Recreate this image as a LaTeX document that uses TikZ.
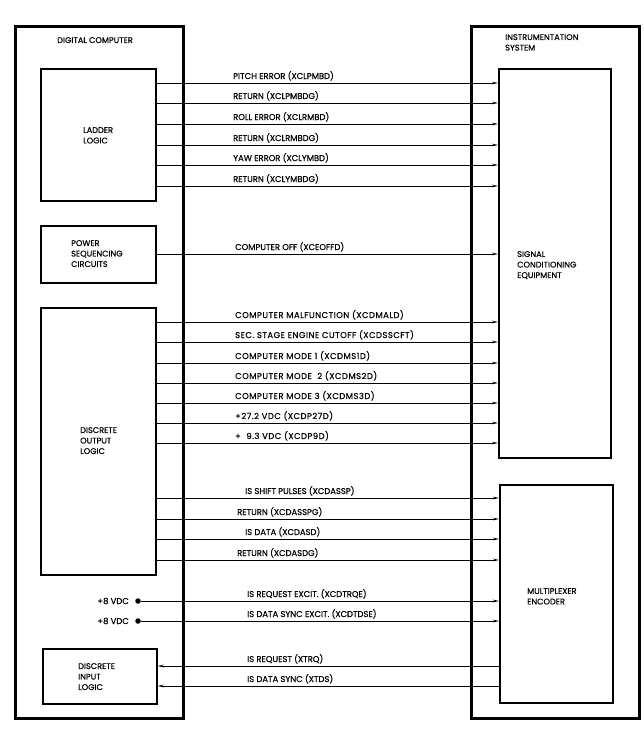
\documentclass[tikz,border=0pt]{standalone}
\usepackage{fontspec}
\setmainfont{Poppins}[FakeBold=0.5]
\usetikzlibrary{arrows.meta}
\begin{document}
\begin{tikzpicture}[x=1pt,y=-1pt,
  outerbox/.style={draw, line width=2.8pt, anchor=north west, inner sep=0pt},
  innerbox/.style={draw, line width=1.6pt, anchor=north west, inner sep=0pt},
  sig/.style={line width=1pt, -{Stealth[length=6pt,width=2.6pt]}},
  lbl/.style={font=\fontsize{8.4}{10.5}\selectfont, anchor=base west, inner sep=0pt},
  lblw/.style={lbl, font=\fontsize{8.4}{10.5}\selectfont\addfontfeature{LetterSpace=6}},
  btxt/.style={font=\fontsize{8.2}{10.5}\selectfont, anchor=north west, inner sep=0pt, align=left},
  vdot/.style={circle, fill=black, inner sep=0pt, minimum size=5.5pt}]
\useasboundingbox (0,0) rectangle (644,729);
% outer boxes
\node[outerbox, minimum width=168pt, minimum height=692pt] (dc) at (14,25) {};
\node[outerbox, minimum width=168pt, minimum height=692pt] (is) at (470,25) {};
% inner boxes
\node[innerbox, minimum width=115pt, minimum height=132pt] (ll) at (40,68) {};
\node[innerbox, minimum width=115pt, minimum height=57pt] (psc) at (40,225) {};
\node[innerbox, minimum width=115pt, minimum height=267pt] (dol) at (40,307) {};
\node[innerbox, minimum width=114pt, minimum height=55pt] (dil) at (42,648) {};
\node[innerbox, minimum width=112pt, minimum height=389pt] (sce) at (498,68) {};
\node[innerbox, minimum width=113pt, minimum height=218pt] (mux) at (499,484) {};
% box texts
\node[btxt] (tdc) at (57,37) {DIGITAL COMPUTER};
\node[btxt] (tis) at (505,34) {INSTRUMENTATION\\SYSTEM};
\node[btxt] (tll) at (83,127) {LADDER\\LOGIC};
\node[btxt] (tpsc) at (71,240) {POWER\\SEQUENCING\\CIRCUITS};
\node[btxt] (tdol) at (80,427) {DISCRETE\\OUTPUT\\LOGIC};
\node[btxt] (tdil) at (78,663) {DISCRETE\\INPUT\\LOGIC};
\node[btxt] (tsce) at (517,251) {SIGNAL\\CONDITIONING\\EQUIPMENT};
\node[btxt] (tmux) at (527,588) {MULTIPLEXER\\ENCODER};
% level coordinates
\foreach \n/\y in {a/83,b/103,c/124,d/145,e/165,f/186,g/254,h/322,i/342,j/363,k/383,l/403,m/423,n/443,o/498,p/519,q/539,r/560,s/601,t/621,u/666,v/686}
  \coordinate (y\n) at (0,\y);
% ladder logic signals
\draw[sig] (ll.east |- ya) -- (sce.west |- ya);
\draw[sig] (ll.east |- yb) -- (sce.west |- yb);
\draw[sig] (ll.east |- yc) -- (sce.west |- yc);
\draw[sig] (ll.east |- yd) -- (sce.west |- yd);
\draw[sig] (ll.east |- ye) -- (sce.west |- ye);
\draw[sig] (ll.east |- yf) -- (sce.west |- yf);
\node[lbl] (la) at (233,79) {PITCH ERROR (XCLPMBD)};
\node[lbl] (lb) at (233,99) {RETURN (XCLPMBDG)};
\node[lbl] (lc) at (233,120) {ROLL ERROR (XCLRMBD)};
\node[lbl] (ld) at (233,141) {RETURN (XCLRMBDG)};
\node[lbl] (le) at (233,161) {YAW ERROR (XCLYMBD)};
\node[lbl] (lf) at (233,182) {RETURN (XCLYMBDG)};
% power sequencing
\draw[sig] (psc.east |- yg) -- (sce.west |- yg);
\node[lbl] (lg) at (235,250) {COMPUTER OFF (XCEOFFD)};
% discrete output to signal conditioning
\draw[sig] (dol.east |- yh) -- (sce.west |- yh);
\draw[sig] (dol.east |- yi) -- (sce.west |- yi);
\draw[sig] (dol.east |- yj) -- (sce.west |- yj);
\draw[sig] (dol.east |- yk) -- (sce.west |- yk);
\draw[sig] (dol.east |- yl) -- (sce.west |- yl);
\draw[sig] (dol.east |- ym) -- (sce.west |- ym);
\draw[sig] (dol.east |- yn) -- (sce.west |- yn);
\node[lblw] (lh) at (235,318) {COMPUTER MALFUNCTION (XCDMALD)};
\node[lblw] (li) at (235,338) {SEC. STAGE ENGINE CUTOFF (XCDSSCFT)};
\node[lblw] (lj) at (235,359) {COMPUTER MODE 1 (XCDMS1D)};
\node[lblw] (lk) at (235,379) {COMPUTER MODE\ \ 2 (XCDMS2D)};
\node[lblw] (ll2) at (235,399) {COMPUTER MODE 3 (XCDMS3D)};
\node[lblw] (lm) at (235,419) {+27.2 VDC (XCDP27D)};
\node[lblw] (ln) at (235,439) {+\ \ 9.3 VDC (XCDP9D)};
% discrete output to multiplexer
\draw[sig] (dol.east |- yo) -- (mux.west |- yo);
\draw[sig] (dol.east |- yp) -- (mux.west |- yp);
\draw[sig] (dol.east |- yq) -- (mux.west |- yq);
\draw[sig] (dol.east |- yr) -- (mux.west |- yr);
\node[lbl] (lo) at (245,494) {IS SHIFT PULSES (XCDASSP)};
\node[lbl] (lp) at (237,515) {RETURN (XCDASSPG)};
\node[lbl] (lq) at (245,535) {IS DATA (XCDASD)};
\node[lbl] (lr) at (237,556) {RETURN (XCDASDG)};
% +8 VDC excitations
\node[vdot] (d1) at (138,601) {};
\node[vdot] (d2) at (138,621) {};
\node[lbl, anchor=base east] (v1) at (129,604) {+8 VDC};
\node[lbl, anchor=base east] (v2) at (129,624) {+8 VDC};
\draw[sig] (d1) -- (mux.west |- ys);
\draw[sig] (d2) -- (mux.west |- yt);
\node[lbl] (ls) at (247,597) {IS REQUEST EXCIT. (XCDTRQE)};
\node[lbl] (lt) at (247,617) {IS DATA SYNC EXCIT. (XCDTDSE)};
% multiplexer to discrete input
\draw[sig] (mux.west |- yu) -- (dil.east |- yu);
\draw[sig] (mux.west |- yv) -- (dil.east |- yv);
\node[lbl] (lu) at (247,662) {IS REQUEST (XTRQ)};
\node[lbl] (lv) at (247,682) {IS DATA SYNC (XTDS)};
\end{tikzpicture}
\end{document}
